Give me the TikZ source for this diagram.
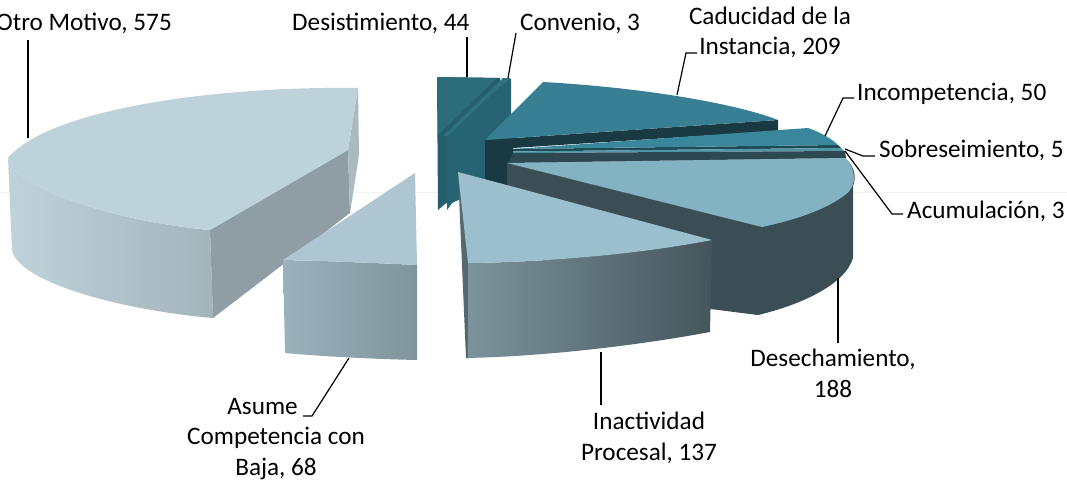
\documentclass[tikz,border=0pt]{standalone}
\usepackage{fontspec}
\setmainfont{Carlito}
\begin{document}
\begin{tikzpicture}[x=1pt,y=-1pt,
  lbl/.style={font=\fontsize{25.2}{30.5}\selectfont, inner sep=0pt, align=center, text=black},
  leader/.style={draw=black, line width=1.2pt},
  face/.style={draw=none}]
\useasboundingbox (0,0) rectangle (1067,487);
\fill[white] (0,0) rectangle (1067,487);
\draw[black!5, line width=0.8pt] (0,192) -- (1067,192);

% ---------- Desistimiento & Convenio (back) ----------
\fill[face, fill={rgb,255:red,36;green,94;blue,108}] (437,77) -- (500,78) -- (500,180) -- (445,204) -- (438,210) -- cycle;
\fill[face, fill={rgb,255:red,43;green,107;blue,122}] (437,77) -- (497,78) -- (438,135) -- cycle;
\fill[face, fill={rgb,255:red,47;green,112;blue,128}] (503,78) -- (509,78) -- (449,136) -- (443,136) -- cycle;
\fill[face, fill={rgb,255:red,38;green,99;blue,115}] (509,78) -- (511,79) -- (511,175) -- (452,203) -- (447,210) -- (447,137) -- cycle;

% ---------- Caducidad ----------
\fill[face, fill={rgb,255:red,25;green,58;blue,66}] (485,140) -- (778,120) -- (778,131) -- (513,148) -- (513,186) -- (485,183) -- cycle;
\fill[face, fill={rgb,255:red,57;green,127;blue,147}] (543,82) .. controls (650,88) and (740,105) .. (778,120) -- (485,140) -- cycle;

% ---------- Incompetencia ----------
\fill[face, fill={rgb,255:red,29;green,74;blue,85}] (513,149) -- (838,145) -- (841,148) -- (513,151.5) -- cycle;
\fill[face, fill={rgb,255:red,58;green,134;blue,154}] (513,149) -- (808,128) .. controls (820,132) and (832,139) .. (838,145) -- cycle;

% ---------- Sobreseimiento / Acumulacion ----------
\fill[face, fill={rgb,255:red,78;green,150;blue,168}] (513,151.5) -- (841,148) -- (844,151) -- (513,153) -- cycle;
\fill[face, fill={rgb,255:red,46;green,72;blue,82}] (513,153) -- (845,151) -- (846,158) -- (508,163) -- cycle;

% ---------- Desechamiento ----------
\fill[face, fill={rgb,255:red,59;green,78;blue,85}] (507,163) -- (845,158)
   .. controls (856,168) and (856,178) .. (853,186) -- (853,258)
   .. controls (845,285) and (800,305) .. (758,315) -- (560,290) -- (507,200) -- cycle;
\fill[face, fill={rgb,255:red,131;green,179;blue,195}] (507,163) -- (845,158)
   .. controls (856,168) and (858,186) .. (845,195)
   .. controls (825,210) and (795,220) .. (762,227) -- cycle;

% ---------- Otro Motivo ----------
\shade[left color={rgb,255:red,192;green,211;blue,218}, right color={rgb,255:red,163;green,180;blue,187}]
  (8,158) .. controls (15,190) and (120,222) .. (210,230) -- (213,318)
  .. controls (120,310) and (18,282) .. (12,250) -- cycle;
\fill[face, fill={rgb,255:red,143;green,157;blue,164}] (210,230) -- (348,150) -- (350,213) -- (213,318) -- cycle;
\fill[face, fill={rgb,255:red,170;green,186;blue,193}] (358,88) -- (359,155) -- (350,213) -- (348,150) -- cycle;
\fill[face, fill={rgb,255:red,190;green,210;blue,217}] (358,88) .. controls (220,86) and (50,108) .. (8,158)
  .. controls (15,190) and (120,222) .. (210,230) -- (348,150) -- cycle;

% ---------- Asume Competencia con Baja ----------
\shade[left color={rgb,255:red,154;green,178;blue,189}, right color={rgb,255:red,127;green,148;blue,155}]
  (283,260) .. controls (330,261) and (375,263) .. (417,265) -- (417,360)
  .. controls (375,359) and (330,357) .. (285,353) -- cycle;
\fill[face, fill={rgb,255:red,173;green,198;blue,210}] (415,173) -- (417,265)
  .. controls (375,263) and (330,261) .. (283,260) -- cycle;

% ---------- Inactividad Procesal ----------
\fill[face, fill={rgb,255:red,86;green,104;blue,111}] (458,172) -- (469,263) -- (469,358) -- (466,358) -- cycle;
\shade[left color={rgb,255:red,124;green,147;blue,156}, right color={rgb,255:red,69;green,85;blue,92}]
  (468,263) .. controls (550,262) and (640,254) .. (712,240) -- (710,332)
  .. controls (640,345) and (550,356) .. (468,358) -- cycle;
\fill[face, fill={rgb,255:red,155;green,191;blue,204}] (458,172) -- (712,240)
  .. controls (640,254) and (550,262) .. (468,263) -- cycle;

% ---------- labels ----------
\node[lbl, anchor=base east] (otro) at (172,31) {Otro Motivo, 575};
\node[lbl, anchor=base west] (desist) at (292,31) {Desistimiento, 44};
\node[lbl, anchor=base west] (conv) at (520,31) {Convenio, 3};
\node[lbl, anchor=base] (cad) at (770,55) {Caducidad de la\\Instancia, 209};
\node[lbl, anchor=base west] (inc) at (857,100) {Incompetencia, 50};
\node[lbl, anchor=base west] (sob) at (879,157) {Sobreseimiento, 5};
\node[lbl, anchor=base west] (acu) at (907,218) {Acumulación, 3};
\node[lbl, anchor=base] (dese) at (833,397) {Desechamiento,\\188};
\node[lbl, anchor=base] (inac) at (649,460) {Inactividad\\Procesal, 137};
\node[lbl, anchor=base] (asume) at (276,475) {Asume\hspace*{27pt}\\Competencia con\\Baja, 68};

% ---------- leader end points ----------
\coordinate (pOtro) at (28,138);   \coordinate (tOtro) at (28,40);
\coordinate (pDes) at (467,77);    \coordinate (tDes) at (467,37);
\coordinate (pConv) at (508,78);   \coordinate (tConv) at (516,33);
\coordinate (pCad) at (677,95);    \coordinate (kCad) at (686,53);  \coordinate (tCad) at (697,53);
\coordinate (pInc) at (825,136);   \coordinate (kInc) at (843,98);  \coordinate (tInc) at (854,98);
\coordinate (pSob) at (845,149);   \coordinate (kSob) at (863,156); \coordinate (tSob) at (875,156);
\coordinate (pAcu) at (845,151);   \coordinate (kAcu) at (892,214); \coordinate (tAcu) at (903,214);
\coordinate (pDese) at (838,278);  \coordinate (tDese) at (838,343);
\coordinate (pInac) at (601,352);  \coordinate (tInac) at (601,405);
\coordinate (pAsu) at (349,358);   \coordinate (kAsu) at (312,416); \coordinate (tAsu) at (303,416);

\draw[leader] (tOtro) -- (pOtro);
\draw[leader] (tDes) -- (pDes);
\draw[leader] (tConv) -- (pConv);
\draw[leader] (tCad) -- (kCad) -- (pCad);
\draw[leader] (tInc) -- (kInc) -- (pInc);
\draw[leader] (tSob) -- (kSob) -- (pSob);
\draw[leader] (tAcu) -- (kAcu) -- (pAcu);
\draw[leader] (tDese) -- (pDese);
\draw[leader] (tInac) -- (pInac);
\draw[leader] (tAsu) -- (kAsu) -- (pAsu);
\end{tikzpicture}
\end{document}
